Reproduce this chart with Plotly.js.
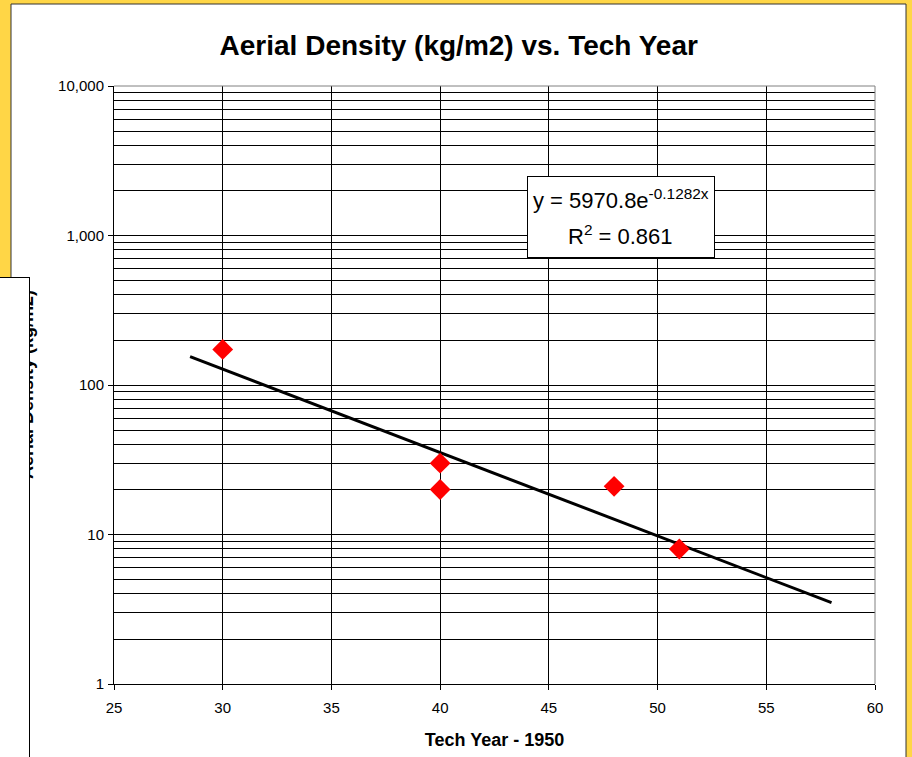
<!DOCTYPE html>
<html>
<head>
<meta charset="utf-8">
<script src="https://cdn.plot.ly/plotly-3.0.1.min.js"></script>
<style>html,body{margin:0;padding:0;background:#FFD646;}#chart{width:912px;height:757px;}</style>
</head>
<body>
<div id="chart"></div>
<script>
// ---- data ----
const techYear = [30, 40, 40, 48, 51];
const density = [173, 30, 20, 21, 8];
const trendYear = [28.5, 58];
const trendDensity = [155, 3.5];
const xTickVals = [25, 30, 35, 40, 45, 50, 55, 60];
const yTickVals = [1, 10, 100, 1000, 10000];
const yTickText = ['1', '10', '100', '1,000', '10,000'];
const yMinorVals = [2,3,4,5,6,7,8,9, 20,30,40,50,60,70,80,90, 200,300,400,500,600,700,800,900, 2000,3000,4000,5000,6000,7000,8000,9000];
const chartTitle = 'Aerial Density (kg/m2) vs. Tech Year';
const xTitle = 'Tech Year - 1950';
const yTitle = 'Aerial Density (kg/m2)';
const eqLine1 = 'y = 5970.8e<sup>-0.1282x</sup>';
const eqLine2 = 'R<sup>2</sup> = 0.861';

// ---- layout geometry ----
const W = 912, H = 757;
const M = {l: 114, r: 37, t: 86, b: 73};
const pw = W - M.l - M.r, ph = H - M.t - M.b;
const px = x => (x - M.l) / pw;
const py = y => (H - M.b - y) / ph;
const FONT = 'Liberation Sans, Arial, sans-serif';

const traces = [
  {
    x: trendYear, y: trendDensity, type: 'scatter', mode: 'lines',
    line: {color: '#000', width: 3}, hoverinfo: 'skip', showlegend: false
  },
  {
    x: techYear, y: density, type: 'scatter', mode: 'markers',
    marker: {symbol: 'diamond', size: 16, color: '#FF0000', line: {width: 0}},
    showlegend: false
  }
];

const layout = {
  width: W, height: H,
  margin: M,
  paper_bgcolor: '#FFD646',
  plot_bgcolor: '#FFFFFF',
  font: {family: FONT, color: '#000', size: 15},
  title: {
    text: '<b>' + chartTitle + '</b>',
    font: {family: FONT, size: 28, color: '#000'},
    xref: 'container', x: 0.503, xanchor: 'center',
    yref: 'container', y: 1 - 45 / H, yanchor: 'middle'
  },
  xaxis: {
    type: 'linear', range: [25, 60],
    tickvals: xTickVals, ticks: 'outside', ticklen: 5, tickcolor: '#000', tickwidth: 1,
    showline: true, linecolor: '#000', linewidth: 1,
    showgrid: true, gridcolor: '#000', gridwidth: 1,
    zeroline: false,
    tickfont: {family: FONT, size: 15, color: '#000'},
    ticklabelstandoff: 5,
    title: {text: '<b>' + xTitle + '</b>', font: {family: FONT, size: 18, color: '#000'}, standoff: 18},
    automargin: false, fixedrange: true
  },
  yaxis: {
    type: 'log', range: [0, 4],
    tickvals: yTickVals, ticktext: yTickText,
    ticks: 'outside', ticklen: 5, tickcolor: '#000', tickwidth: 1,
    showline: true, linecolor: '#000', linewidth: 1,
    showgrid: true, gridcolor: '#000', gridwidth: 1,
    zeroline: false,
    minor: {tickvals: yMinorVals, showgrid: true, gridcolor: '#000', gridwidth: 1, ticks: ''},
    tickfont: {family: FONT, size: 15, color: '#000'},
    ticklabelstandoff: 1,
    automargin: false, fixedrange: true
  },
  shapes: [
    // white chart panel
    {type: 'rect', xref: 'paper', yref: 'paper', layer: 'below',
     x0: px(11), x1: px(906), y0: py(770), y1: py(4),
     line: {color: '#333', width: 1}, fillcolor: '#FFFFFF'},
    // gray top/right plot-area border
    {type: 'path', xref: 'paper', yref: 'paper', layer: 'above',
     path: 'M 0,1 L 1,1 L 1,0', line: {color: '#808080', width: 1}}
  ],
  annotations: [
    // partially hidden y-axis title of the chart behind
    {text: '<b>' + yTitle + '</b>', textangle: -90, showarrow: false,
     xref: 'paper', yref: 'paper', x: px(27), y: py(385), xanchor: 'center', yanchor: 'middle',
     font: {family: FONT, size: 18, color: '#000'}},
    // overlapping white box at left edge
    {text: ' ', showarrow: false, xref: 'paper', yref: 'paper',
     x: px(-1), y: py(277), xanchor: 'left', yanchor: 'top',
     width: 29, height: 500, bgcolor: '#FFFFFF', bordercolor: '#000', borderwidth: 1, borderpad: 0},
    // equation box
    {text: ' ', showarrow: false, xref: 'paper', yref: 'paper',
     x: px(527), y: py(176), xanchor: 'left', yanchor: 'top',
     width: 186, height: 80, bgcolor: '#FFFFFF', bordercolor: '#000', borderwidth: 1, borderpad: 0},
    {text: eqLine1, showarrow: false, xref: 'paper', yref: 'paper',
     x: px(621), y: py(199), xanchor: 'center', yanchor: 'middle',
     font: {family: FONT, size: 22, color: '#000'}},
    {text: eqLine2, showarrow: false, xref: 'paper', yref: 'paper',
     x: px(620), y: py(235), xanchor: 'center', yanchor: 'middle',
     font: {family: FONT, size: 22, color: '#000'}}
  ]
};

Plotly.newPlot('chart', traces, layout, {displayModeBar: false, staticPlot: true});
</script>
</body>
</html>
